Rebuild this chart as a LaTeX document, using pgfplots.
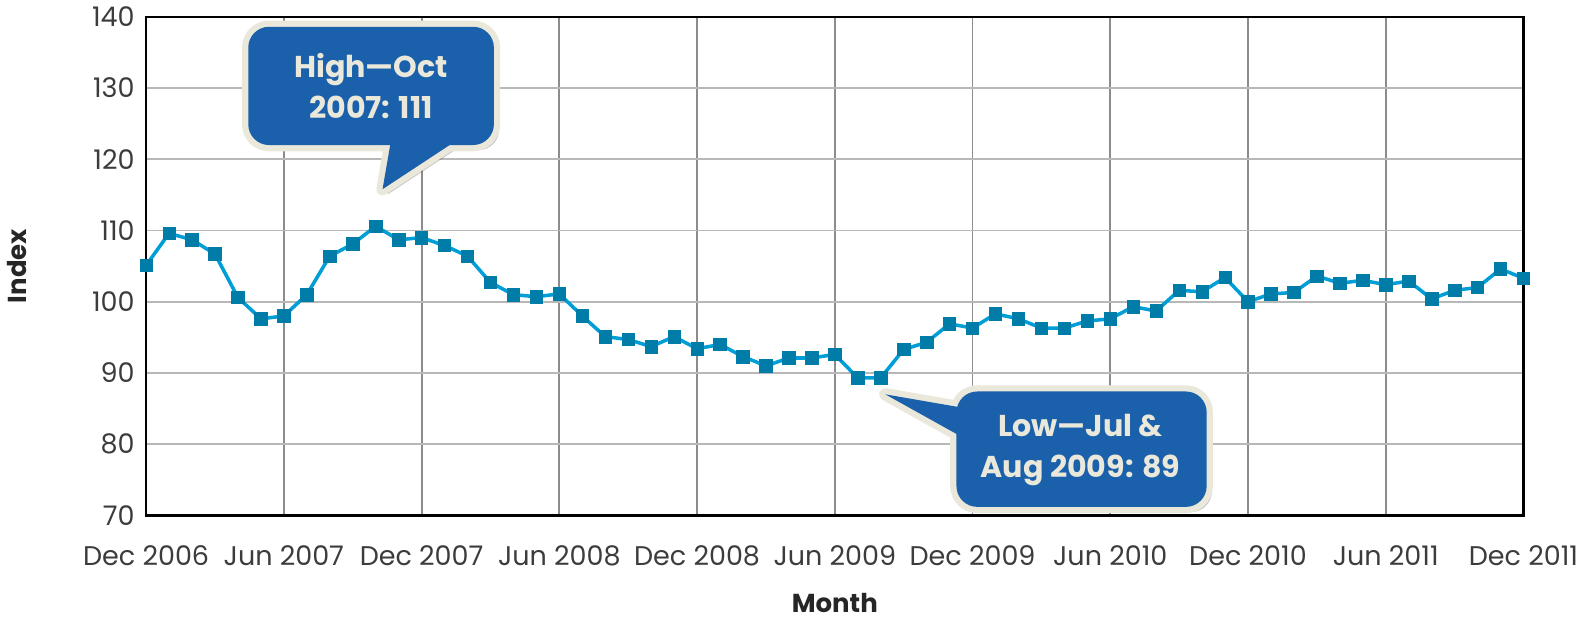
\documentclass[border=0pt]{standalone}
\usepackage{pgfplots}
\pgfplotsset{compat=1.18}
\usepackage{fontspec}
\setmainfont{Poppins}

\definecolor{linecol}{RGB}{0,158,214}
\definecolor{markcol}{RGB}{0,124,168}
\definecolor{boxblue}{RGB}{27,96,170}
\definecolor{cream}{RGB}{234,232,218}
\definecolor{ticktext}{RGB}{60,60,60}

% monthly index, Dec 2006 (0) to Dec 2011 (60)
\pgfplotstableread{
m val
0 105.1
1 109.6
2 108.7
3 106.7
4 100.6
5 97.6
6 98.0
7 101.0
8 106.4
9 108.1
10 110.6
11 108.7
12 109.0
13 107.9
14 106.4
15 102.7
16 101.0
17 100.7
18 101.1
19 98.0
20 95.1
21 94.7
22 93.7
23 95.1
24 93.4
25 94.0
26 92.3
27 91.0
28 92.1
29 92.1
30 92.6
31 89.3
32 89.3
33 93.3
34 94.3
35 96.9
36 96.3
37 98.3
38 97.6
39 96.3
40 96.3
41 97.3
42 97.6
43 99.3
44 98.7
45 101.6
46 101.4
47 103.4
48 100.0
49 101.1
50 101.3
51 103.6
52 102.6
53 103.0
54 102.4
55 102.9
56 100.4
57 101.6
58 102.0
59 104.6
60 103.3
}\indexdata

\begin{document}
\begin{tikzpicture}
\begin{axis}[
    scale only axis,
    width=663pt, height=240pt,
    xmin=0, xmax=60, ymin=70, ymax=140,
    xtick={0,6,...,60},
    xticklabels={Dec 2006,Jun 2007,Dec 2007,Jun 2008,Dec 2008,Jun 2009,Dec 2009,Jun 2010,Dec 2010,Jun 2011,Dec 2011},
    ytick={70,80,...,140},
    major tick length=0pt,
    xmajorgrids, ymajorgrids,
    x grid style={draw=black!45, line width=0.9pt},
    y grid style={draw=black!28, line width=0.9pt},
    axis line style={black, line width=1.1pt},
    /pgf/number format/assume math mode=true,
    tick label style={font=\fontsize{13}{15}\selectfont, text=ticktext},
    xticklabel style={yshift=-11pt},
    yticklabel style={xshift=-2pt},
    xlabel={Month},
    ylabel={Index},
    every axis x label/.style={at={(axis description cs:0.5,-0.175)}, anchor=center,
        font=\fontsize{12.5}{14}\selectfont\bfseries, text=black!85},
    every axis y label/.style={at={(axis description cs:-0.094,0.5)}, rotate=90, anchor=center,
        font=\fontsize{12.5}{14}\selectfont\bfseries, text=black!85},
    clip=false,
]
\addplot[linecol, line width=1.7pt, mark=square*, mark size=3pt,
    mark options={fill=markcol, draw=markcol, line width=0.3pt}]
    table[x=m, y=val] {\indexdata};

% callout: high
\fill[black, opacity=0.22, xshift=2.5pt, yshift=-2.5pt, rounded corners=10pt]
    (axis cs:4.45,138.6) rectangle (axis cs:15.15,122.0);
\fill[black, opacity=0.22, xshift=2.5pt, yshift=-2.5pt]
    (axis cs:10.66,122.5) -- (axis cs:10.30,115.8) -- (axis cs:13.46,122.5) -- cycle;
\draw[cream, fill=cream, line width=6pt, rounded corners=10pt]
    (axis cs:4.45,138.6) rectangle (axis cs:15.15,122.0);
\draw[cream, fill=cream, line width=6pt, line join=round]
    (axis cs:10.66,122.5) -- (axis cs:10.30,115.8) -- (axis cs:13.46,122.5) -- cycle;
\fill[boxblue, rounded corners=10pt]
    (axis cs:4.45,138.6) rectangle (axis cs:15.15,122.0);
\fill[boxblue]
    (axis cs:10.66,122.5) -- (axis cs:10.30,115.8) -- (axis cs:13.46,122.5) -- cycle;
\node[text=cream, align=center, font=\fontsize{14.5}{20}\selectfont\bfseries]
    at (axis cs:9.8,130.3) {High—Oct\\2007: 111};

% callout: low
\fill[black, opacity=0.22, xshift=2.5pt, yshift=-2.5pt, rounded corners=10pt]
    (axis cs:35.3,87.4) rectangle (axis cs:46.2,71.2);
\fill[black, opacity=0.22, xshift=2.5pt, yshift=-2.5pt]
    (axis cs:35.6,85.1) -- (axis cs:32.2,87.0) -- (axis cs:35.6,80.9) -- cycle;
\draw[cream, fill=cream, line width=6pt, rounded corners=10pt]
    (axis cs:35.3,87.4) rectangle (axis cs:46.2,71.2);
\draw[cream, fill=cream, line width=6pt, line join=round]
    (axis cs:35.6,85.1) -- (axis cs:32.2,87.0) -- (axis cs:35.6,80.9) -- cycle;
\fill[boxblue, rounded corners=10pt]
    (axis cs:35.3,87.4) rectangle (axis cs:46.2,71.2);
\fill[boxblue]
    (axis cs:35.6,85.1) -- (axis cs:32.2,87.0) -- (axis cs:35.6,80.9) -- cycle;
\node[text=cream, align=center, font=\fontsize{14.5}{20}\selectfont\bfseries]
    at (axis cs:40.7,79.2) {Low—Jul \&\\Aug 2009: 89};
\end{axis}
\end{tikzpicture}
\end{document}
